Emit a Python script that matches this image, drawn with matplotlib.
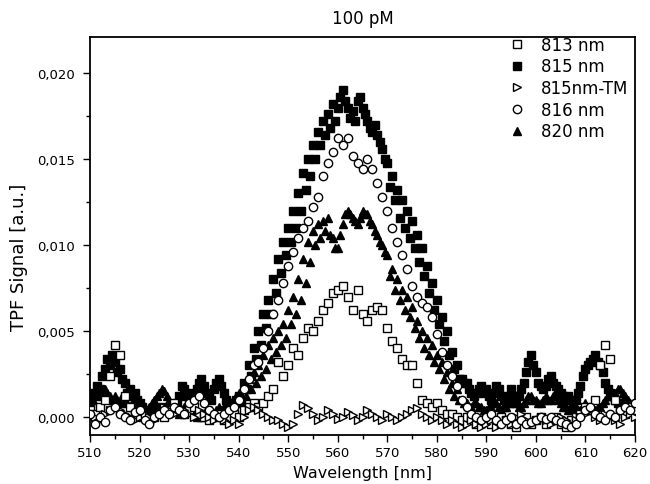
import numpy as np
import matplotlib
matplotlib.use("Agg")
import matplotlib.pyplot as plt
from matplotlib.ticker import MultipleLocator, FuncFormatter

# wavelength axes: 1 nm steps for the open markers, 0.5 nm for the two filled series
wl_1 = np.arange(510, 621, 1)
wl_half = np.arange(510, 620.5, 0.5)

s813 = [0.0004, 0.0002, 0.0006, 0.0010, 0.0024, 0.0042, 0.0036, 0.0012, 0.0006, 0.0002,
        0.0004, 0.0000, -0.0002, 0.0000, 0.0002, 0.0000, 0.0004, 0.0008, 0.0004, 0.0002,
        0.0004, 0.0006, 0.0002, 0.0000, -0.0002, 0.0000, 0.0002, -0.0002, 0.0000, 0.0002,
        0.0000, 0.0004, 0.0006, 0.0008, 0.0006, 0.0008, 0.0012, 0.0016, 0.0032, 0.0024,
        0.0030, 0.0040, 0.0036, 0.0046, 0.0052, 0.0050, 0.0056, 0.0062, 0.0066, 0.0072,
        0.0074, 0.0076, 0.0070, 0.0062, 0.0074, 0.0060, 0.0056, 0.0062, 0.0064, 0.0062,
        0.0052, 0.0044, 0.0040, 0.0034, 0.0030, 0.0030, 0.0020, 0.0010, 0.0008, 0.0006,
        0.0008, 0.0004, 0.0002, 0.0002, 0.0000, -0.0002, 0.0000, -0.0002, -0.0004, -0.0002,
        0.0000, -0.0004, -0.0002, 0.0000, -0.0002, -0.0004, -0.0006, -0.0002, 0.0000, -0.0004,
        -0.0002, 0.0000, -0.0004, -0.0002, 0.0000, -0.0004, -0.0006, -0.0002, 0.0000, 0.0002,
        0.0006, 0.0004, 0.0010, 0.0030, 0.0042, 0.0034, 0.0010, 0.0004, 0.0002, 0.0006,
        0.0004]

s815 = [0.0008, 0.0014, 0.0012, 0.0018, 0.0016, 0.0024, 0.0028, 0.0034, 0.0030, 0.0036,
        0.0032, 0.0026, 0.0028, 0.0022, 0.0020, 0.0014, 0.0016, 0.0012, 0.0014, 0.0010,
        0.0008, 0.0006, 0.0004, 0.0002, 0.0003, 0.0001, 0.0003, 0.0005, 0.0004, 0.0006,
        0.0005, 0.0003, 0.0004, 0.0006, 0.0005, 0.0008, 0.0012, 0.0018, 0.0016, 0.0012,
        0.0010, 0.0014, 0.0012, 0.0016, 0.0020, 0.0022, 0.0018, 0.0014, 0.0012, 0.0010,
        0.0016, 0.0020, 0.0022, 0.0018, 0.0014, 0.0010, 0.0008, 0.0006, 0.0008, 0.0010,
        0.0012, 0.0010, 0.0020, 0.0016, 0.0030, 0.0024, 0.0040, 0.0034, 0.0050, 0.0042,
        0.0060, 0.0052, 0.0068, 0.0060, 0.0080, 0.0072, 0.0092, 0.0084, 0.0102, 0.0094,
        0.0110, 0.0102, 0.0120, 0.0110, 0.0130, 0.0120, 0.0142, 0.0132, 0.0150, 0.0140,
        0.0158, 0.0150, 0.0166, 0.0158, 0.0172, 0.0164, 0.0176, 0.0168, 0.0182, 0.0172,
        0.0180, 0.0186, 0.0190, 0.0184, 0.0180, 0.0174, 0.0178, 0.0172, 0.0184, 0.0186,
        0.0180, 0.0176, 0.0172, 0.0168, 0.0166, 0.0170, 0.0164, 0.0160, 0.0156, 0.0150,
        0.0148, 0.0134, 0.0140, 0.0126, 0.0132, 0.0116, 0.0126, 0.0110, 0.0120, 0.0104,
        0.0114, 0.0098, 0.0106, 0.0090, 0.0098, 0.0082, 0.0088, 0.0072, 0.0078, 0.0062,
        0.0068, 0.0054, 0.0058, 0.0044, 0.0050, 0.0036, 0.0038, 0.0028, 0.0030, 0.0022,
        0.0022, 0.0020, 0.0020, 0.0016, 0.0014, 0.0012, 0.0014, 0.0016, 0.0018, 0.0014,
        0.0016, 0.0012, 0.0010, 0.0014, 0.0018, 0.0016, 0.0012, 0.0010, 0.0008, 0.0012,
        0.0016, 0.0012, 0.0010, 0.0012, 0.0016, 0.0020, 0.0026, 0.0032, 0.0036, 0.0030,
        0.0026, 0.0020, 0.0018, 0.0016, 0.0018, 0.0022, 0.0024, 0.0020, 0.0018, 0.0016,
        0.0014, 0.0012, 0.0010, 0.0012, 0.0010, 0.0008, 0.0010, 0.0014, 0.0018, 0.0024,
        0.0028, 0.0030, 0.0032, 0.0034, 0.0036, 0.0032, 0.0030, 0.0026, 0.0020, 0.0016,
        0.0014, 0.0012, 0.0010, 0.0008, 0.0008, 0.0006, 0.0006, 0.0004, 0.0004, 0.0003,
        0.0003]

s815tm = [0.0002, 0.0000, -0.0002, 0.0002, 0.0004, 0.0006, 0.0004, 0.0002, 0.0000, -0.0002,
          0.0000, 0.0002, 0.0000, -0.0002, 0.0002, 0.0006, 0.0004, 0.0002, 0.0006, 0.0004,
          0.0002, 0.0000, 0.0004, 0.0002, 0.0000, -0.0002, 0.0000, -0.0002, -0.0004, -0.0002,
          -0.0004, 0.0000, 0.0004, 0.0006, 0.0004, 0.0002, 0.0000, -0.0002, -0.0002, -0.0004,
          -0.0006, -0.0004, 0.0002, 0.0007, 0.0005, 0.0002, -0.0002, 0.0000, 0.0004, 0.0002,
          -0.0001, 0.0000, 0.0003, 0.0001, -0.0002, 0.0000, 0.0004, 0.0002, 0.0000, -0.0002,
          0.0002, 0.0000, -0.0002, 0.0000, 0.0002, 0.0004, 0.0005, 0.0002, 0.0000, -0.0002,
          0.0000, -0.0002, -0.0004, -0.0002, -0.0004, -0.0006, -0.0004, -0.0002, -0.0004, -0.0006,
          -0.0004, -0.0002, -0.0006, -0.0004, -0.0002, -0.0004, 0.0000, 0.0002, -0.0002, -0.0004,
          -0.0002, 0.0000, -0.0002, -0.0004, -0.0002, 0.0000, -0.0002, -0.0004, -0.0002, 0.0000,
          0.0002, 0.0004, 0.0000, -0.0002, 0.0002, 0.0000, -0.0002, -0.0004, 0.0000, 0.0002,
          0.0000]

s816 = [0.0002, -0.0004, 0.0000, -0.0003, 0.0004, 0.0006, 0.0002, 0.0000, -0.0002, 0.0003,
        0.0004, -0.0002, -0.0004, 0.0000, 0.0002, 0.0004, 0.0002, 0.0006, 0.0004, 0.0002,
        0.0008, 0.0010, 0.0012, 0.0008, 0.0004, 0.0002, 0.0000, 0.0002, 0.0004, 0.0006,
        0.0010, 0.0016, 0.0022, 0.0030, 0.0032, 0.0040, 0.0050, 0.0060, 0.0068, 0.0078,
        0.0088, 0.0096, 0.0104, 0.0110, 0.0114, 0.0122, 0.0128, 0.0140, 0.0148, 0.0154,
        0.0162, 0.0158, 0.0162, 0.0152, 0.0148, 0.0144, 0.0150, 0.0144, 0.0136, 0.0128,
        0.0120, 0.0110, 0.0102, 0.0094, 0.0086, 0.0076, 0.0070, 0.0066, 0.0064, 0.0058,
        0.0048, 0.0038, 0.0030, 0.0024, 0.0018, 0.0010, 0.0006, 0.0002, 0.0000, -0.0002,
        0.0000, 0.0002, -0.0002, -0.0004, -0.0002, 0.0000, -0.0004, -0.0002, -0.0004, -0.0003,
        -0.0002, 0.0000, -0.0001, 0.0000, -0.0002, -0.0003, -0.0004, -0.0006, -0.0004, 0.0000,
        0.0004, 0.0006, 0.0002, 0.0000, -0.0002, 0.0002, 0.0000, 0.0004, 0.0006, 0.0004,
        0.0008]

s820 = [0.0012, 0.0010, 0.0014, 0.0016, 0.0014, 0.0012, 0.0016, 0.0014, 0.0012, 0.0010,
        0.0012, 0.0010, 0.0008, 0.0012, 0.0010, 0.0008, 0.0006, 0.0008, 0.0004, 0.0002,
        0.0002, 0.0000, 0.0002, 0.0004, 0.0006, 0.0008, 0.0010, 0.0012, 0.0014, 0.0016,
        0.0015, 0.0012, 0.0010, 0.0008, 0.0006, 0.0004, 0.0002, 0.0004, 0.0006, 0.0004,
        0.0006, 0.0004, 0.0002, 0.0000, 0.0002, 0.0000, 0.0002, 0.0004, 0.0002, 0.0004,
        0.0002, 0.0004, 0.0006, 0.0004, 0.0006, 0.0008, 0.0006, 0.0008, 0.0010, 0.0012,
        0.0014, 0.0008, 0.0018, 0.0012, 0.0022, 0.0016, 0.0026, 0.0020, 0.0030, 0.0024,
        0.0036, 0.0028, 0.0042, 0.0034, 0.0046, 0.0038, 0.0050, 0.0042, 0.0054, 0.0046,
        0.0062, 0.0054, 0.0070, 0.0060, 0.0080, 0.0068, 0.0092, 0.0078, 0.0102, 0.0090,
        0.0108, 0.0100, 0.0112, 0.0104, 0.0114, 0.0108, 0.0116, 0.0106, 0.0104, 0.0098,
        0.0098, 0.0106, 0.0112, 0.0118, 0.0120, 0.0118, 0.0116, 0.0114, 0.0112, 0.0116,
        0.0120, 0.0118, 0.0118, 0.0114, 0.0112, 0.0108, 0.0106, 0.0102, 0.0100, 0.0096,
        0.0094, 0.0082, 0.0086, 0.0074, 0.0080, 0.0068, 0.0074, 0.0062, 0.0070, 0.0058,
        0.0064, 0.0052, 0.0056, 0.0046, 0.0050, 0.0040, 0.0046, 0.0036, 0.0042, 0.0032,
        0.0036, 0.0028, 0.0032, 0.0022, 0.0026, 0.0016, 0.0020, 0.0012, 0.0016, 0.0010,
        0.0010, 0.0008, 0.0008, 0.0006, 0.0006, 0.0008, 0.0008, 0.0006, 0.0006, 0.0004,
        0.0004, 0.0006, 0.0006, 0.0008, 0.0008, 0.0006, 0.0004, 0.0006, 0.0006, 0.0008,
        0.0010, 0.0008, 0.0008, 0.0006, 0.0006, 0.0008, 0.0010, 0.0012, 0.0012, 0.0010,
        0.0010, 0.0008, 0.0008, 0.0010, 0.0012, 0.0010, 0.0010, 0.0012, 0.0012, 0.0010,
        0.0008, 0.0006, 0.0006, 0.0004, 0.0004, 0.0006, 0.0006, 0.0004, 0.0004, 0.0006,
        0.0008, 0.0006, 0.0006, 0.0004, 0.0004, 0.0006, 0.0006, 0.0008, 0.0010, 0.0012,
        0.0012, 0.0014, 0.0014, 0.0016, 0.0016, 0.0014, 0.0012, 0.0010, 0.0008, 0.0008,
        0.0008]

labels = ["813 nm", "815 nm", "815nm-TM", "816 nm", "820 nm"]

fig = plt.figure(figsize=(6.5, 4.85), dpi=100)
ax = fig.add_axes([0.1385, 0.101, 0.8384, 0.8206])

# (x, data, marker, face colour, zorder)
series = [(wl_1, s813, "s", "white", 4),
          (wl_half, s815, "s", "black", 2),
          (wl_1, s815tm, ">", "white", 4),
          (wl_1, s816, "o", "white", 5),
          (wl_half, s820, "^", "black", 3)]

handles = []
for (x, vals, mk, fc, z), lab in zip(series, labels):
    h, = ax.plot(x, vals, linestyle="none", marker=mk, markersize=6,
                 markerfacecolor=fc, markeredgecolor="black", markeredgewidth=1.0,
                 zorder=z, label=lab)
    handles.append(h)

ax.set_xlim(510, 620)
ax.set_ylim(-0.00105, 0.0221)

ax.xaxis.set_major_locator(MultipleLocator(10))
ax.xaxis.set_minor_locator(MultipleLocator(5))
ax.yaxis.set_major_locator(MultipleLocator(0.005))
ax.yaxis.set_minor_locator(MultipleLocator(0.0025))
ax.yaxis.set_major_formatter(FuncFormatter(lambda v, p: f"{v:.3f}".replace(".", ",")))

ax.tick_params(which="both", direction="out", top=False, right=False, width=1.0)
ax.tick_params(which="major", length=5, labelsize=9.5)
ax.tick_params(axis="x", which="major", pad=3)
ax.tick_params(axis="y", which="major", pad=6)
ax.tick_params(which="minor", length=3)
for sp in ax.spines.values():
    sp.set_linewidth(1.3)

ax.set_title("100 pM", fontsize=12, pad=10)
ax.set_xlabel("Wavelength [nm]", fontsize=11.5, va="center")
ax.xaxis.set_label_coords(0.5, -0.095)
ax.set_ylabel("TPF Signal [a.u.]", fontsize=13, va="center")
ax.yaxis.set_label_coords(-0.13, 0.45)

ax.legend(handles=handles, labels=labels, loc="upper left", bbox_to_anchor=(0.7675, 1.003),
          frameon=False, fontsize=12, numpoints=1, handlelength=1.0, handletextpad=0.96,
          labelspacing=0.22, borderpad=0, borderaxespad=0)

fig.savefig("out.png", dpi=100)
